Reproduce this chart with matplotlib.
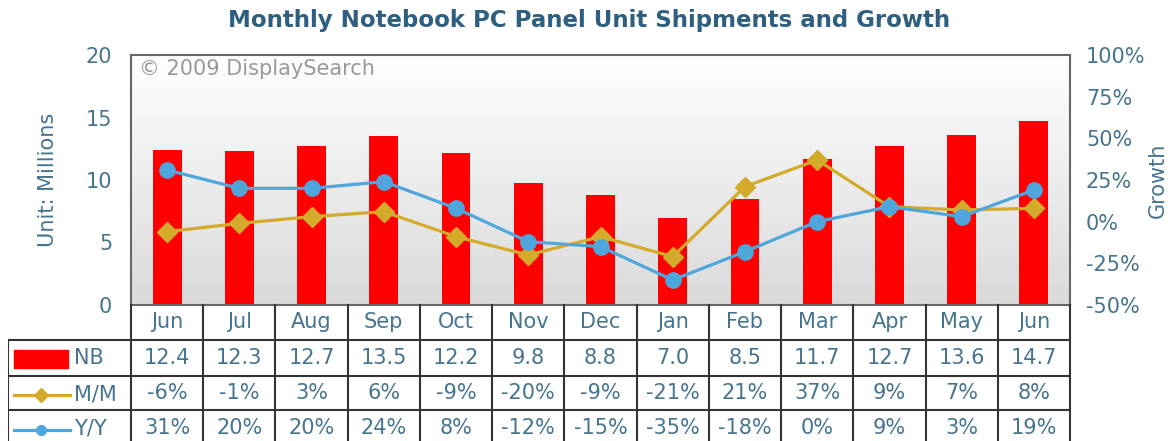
import numpy as np
import matplotlib
matplotlib.use("Agg")
import matplotlib.pyplot as plt
from matplotlib.patches import Rectangle
from matplotlib.colors import LinearSegmentedColormap

months = ["Jun", "Jul", "Aug", "Sep", "Oct", "Nov", "Dec", "Jan", "Feb", "Mar", "Apr", "May", "Jun"]
nb = [12.4, 12.3, 12.7, 13.5, 12.2, 9.8, 8.8, 7.0, 8.5, 11.7, 12.7, 13.6, 14.7]
mm = [-6, -1, 3, 6, -9, -20, -9, -21, 21, 37, 9, 7, 8]
yy = [31, 20, 20, 24, 8, -12, -15, -35, -18, 0, 9, 3, 19]
left_ticks = [0, 5, 10, 15, 20]
right_ticks = [-50, -25, 0, 25, 50, 75, 100]

W, H = 1174, 441
TXT = "#46748f"
RED = "#ff0000"
GOLD = "#d4aa2a"
BLUE = "#4ea6dc"
GRID = "#333333"
FS = 15

fig = plt.figure(figsize=(W / 100, H / 100), dpi=100)
fig.patch.set_facecolor("white")

AL, AR, AT, AB = 131, 1070, 55, 305
ax = fig.add_axes([AL / W, 1 - AB / H, (AR - AL) / W, (AB - AT) / H])
n = len(months)
x = np.arange(n)

grad = np.linspace(0, 1, 256).reshape(-1, 1)
cmap = LinearSegmentedColormap.from_list("g", ["#ffffff", "#dadada"])
ax.imshow(grad, cmap=cmap, aspect="auto", extent=(-0.5, n - 0.5, 0, 20), origin="upper", zorder=0)
ax.set_xlim(-0.5, n - 0.5)
ax.set_ylim(0, 20)

ax.bar(x, nb, width=0.4, color=RED, zorder=2)
ax.set_yticks(left_ticks)
ax.set_yticklabels([str(t) for t in left_ticks], color=TXT, fontsize=FS)
ax.tick_params(axis="y", length=0, pad=13.5)
ax.set_xticks([])
for s in ax.spines.values():
    s.set_color("#666666")
    s.set_linewidth(1.5)
ax.set_ylabel("Unit: Millions", color=TXT, fontsize=FS, labelpad=20)
ax.text(0.008, 0.985, "© 2009 DisplaySearch", transform=ax.transAxes, ha="left", va="top",
        color="#999999", fontsize=FS, zorder=5)

ax2 = ax.twinx()
ax2.set_ylim(-50, 100)
ax2.plot(x, mm, color=GOLD, lw=2.3, marker="D", ms=10, zorder=3)
ax2.plot(x, yy, color=BLUE, lw=2.3, marker="o", ms=11, zorder=4)
ax2.set_yticks(right_ticks)
ax2.set_yticklabels([f"{t}%" for t in right_ticks], color=TXT, fontsize=FS)
ax2.tick_params(axis="y", length=0, pad=11.5)
for s in ax2.spines.values():
    s.set_visible(False)
ax2.set_ylabel("Growth", color=TXT, fontsize=FS, labelpad=2)

fig.suptitle("Monthly Notebook PC Panel Unit Shipments and Growth", x=(233 + 945) / 2 / W, y=1 - 9 / H,
             va="top", color="#2f5f7f", fontsize=16.5, fontweight="bold")

# table
TL = 8
ux = (AR - AL) / n
def px2x(px):
    return -0.5 + (px - AL) / ux

tab = fig.add_axes([TL / W, 0, (AR - TL) / W, (H - AB) / H])
tab.set_xlim(px2x(TL), n - 0.5)
tab.set_ylim(H, AB)
tab.axis("off")
rows = [(AB, 340), (340, 376), (376, 410), (410, 445)]
lw = 1.5
for i in range(n + 1):
    tab.plot([i - 0.5, i - 0.5], [AB, H], color=GRID, lw=lw, clip_on=False)
tab.plot([px2x(TL), px2x(TL)], [340, H], color=GRID, lw=lw)
for yb in [340, 376, 410]:
    tab.plot([px2x(TL), n - 0.5], [yb, yb], color=GRID, lw=lw)

def cy(r):
    return (rows[r][0] + min(rows[r][1], 441)) / 2

for i in range(n):
    tab.text(i, cy(0), months[i], ha="center", va="center", color=TXT, fontsize=FS)
    tab.text(i, cy(1), f"{nb[i]:.1f}", ha="center", va="center", color=TXT, fontsize=FS)
    tab.text(i, cy(2), f"{mm[i]}%", ha="center", va="center", color=TXT, fontsize=FS)
    tab.text(i, 428, f"{yy[i]}%", ha="center", va="center", color=TXT, fontsize=FS)

# legend glyphs
tab.add_patch(Rectangle((px2x(14), 350), px2x(68) - px2x(14), 18, color=RED))
tab.text(px2x(74), cy(1), "NB", ha="left", va="center", color=TXT, fontsize=FS)
tab.plot([px2x(14), px2x(70)], [395, 395], color=GOLD, lw=2.3)
tab.plot([px2x(41)], [395], color=GOLD, marker="D", ms=7)
tab.text(px2x(74), 394, "M/M", ha="left", va="center", color=TXT, fontsize=FS)
tab.plot([px2x(14), px2x(70)], [430, 430], color=BLUE, lw=2.3)
tab.plot([px2x(41)], [430], color=BLUE, marker="o", ms=7)
tab.text(px2x(74), 428, "Y/Y", ha="left", va="center", color=TXT, fontsize=FS)

fig.savefig("out.png", dpi=100)
